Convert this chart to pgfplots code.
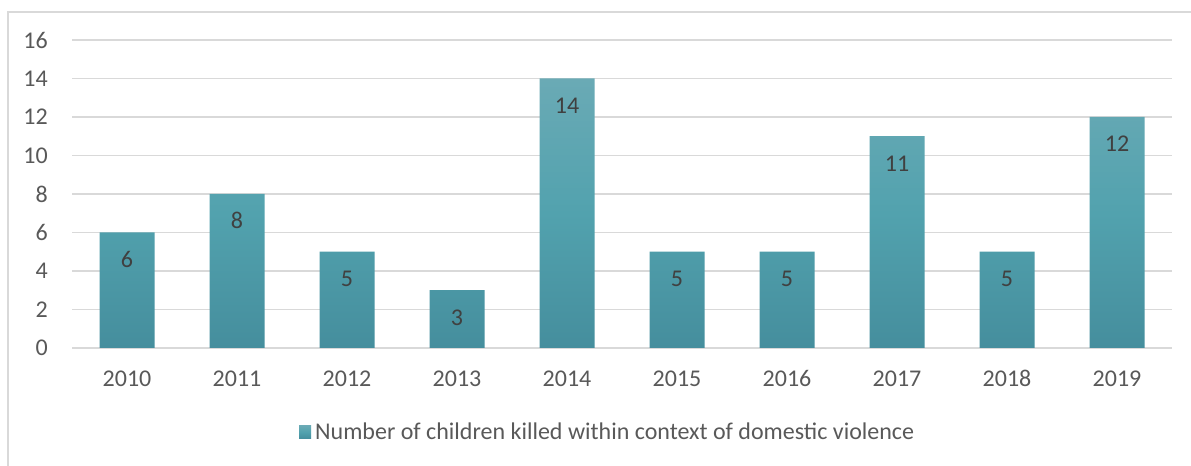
\documentclass[border=0pt]{standalone}
\usepackage{pgfplots}
\pgfplotsset{compat=1.18}
\usepackage{fontspec}
\setmainfont{Carlito}
\definecolor{gridc}{HTML}{D9D9D9}
\definecolor{tickc}{HTML}{595959}
\definecolor{labc}{HTML}{404040}
\definecolor{bartop}{HTML}{6AAAB5}
\definecolor{barmid}{HTML}{52A2AE}
\definecolor{barbot}{HTML}{458E9D}
\begin{document}
\begin{tikzpicture}
\useasboundingbox (0,0) rectangle (1191bp,466bp);
\fill[white] (0,0) rectangle (1191bp,466bp);
\begin{axis}[
  at={(72bp,118bp)}, anchor=south west,
  scale only axis, width=1100bp, height=308bp,
  xmin=-0.5, xmax=9.5, ymin=0, ymax=16,
  xtick={0,...,9},
  xticklabels={2010,2011,2012,2013,2014,2015,2016,2017,2018,2019},
  ytick={0,2,...,16},
  /pgf/number format/assume math mode=true,
  axis x line*=bottom, axis y line*=left,
  x axis line style={draw=gridc, line width=1.3bp, -},
  y axis line style={draw=none},
  major tick length=0pt,
  ymajorgrids, grid style={draw=gridc, line width=1.3bp},
  ticklabel style={font=\fontsize{24bp}{28bp}\selectfont, text=tickc, inner sep=0pt},
  xticklabel style={anchor=base, yshift=-39bp},
  yticklabel style={anchor=east, xshift=-24bp},
  ybar, bar width=55bp,
  nodes near coords,
  every node near coord/.append style={anchor=base, yshift=-35bp, inner sep=0pt, text=labc, font=\fontsize{24bp}{28bp}\selectfont},
  legend style={at={(0.487,-0.273)}, anchor=center, draw=none, fill=none,
    font=\fontsize{24bp}{28bp}\selectfont, text=tickc, inner sep=0pt,
    /tikz/every even column/.append style={column sep=0pt}},
  legend cell align=left,
  legend image code/.code={\fill[barmid] (0bp,-6.5bp) rectangle (12bp,6.5bp);},
]
\addplot[draw=none, top color=bartop, bottom color=barbot, middle color=barmid]
  coordinates {(0,6) (1,8) (2,5) (3,3) (4,14) (5,5) (6,5) (7,11) (8,5) (9,12)};
\addlegendentry{\hspace{2bp}Number of children killed within context of domestic violence}
\end{axis}
\draw[gridc, line width=1.3bp] (8bp,0) -- (8bp,454bp) -- (1191bp,454bp);
\end{tikzpicture}
\end{document}
